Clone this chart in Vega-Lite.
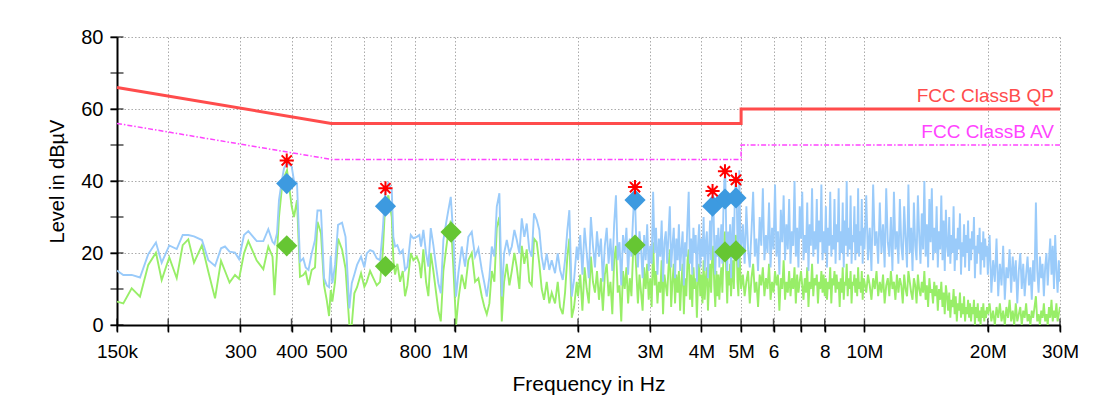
{
"$schema": "https://vega.github.io/schema/vega-lite/v6.json",
"width": 943,
"height": 288,
"autosize": {"type": "none"},
"padding": {"left": 117, "top": 37, "right": 38, "bottom": 81},
"background": "white",
"config": {"view": {"stroke": null}, "font": "Liberation Sans"},
"datasets": {
"trace": [
{"f":0.150,"p":15.1,"a":6.5},{"f":0.1554,"p":13.9,"a":6.0},{"f":0.1629,"p":13.9,"a":10.2},{"f":0.1707,"p":13.2,"a":7.9},{"f":0.1788,"p":19.7,"a":16.7},{"f":0.1867,"p":22.9,"a":20.1},{"f":0.1928,"p":17.3,"a":12.5},{"f":0.2012,"p":22.1,"a":18.8},{"f":0.2098,"p":21.1,"a":13.0},{"f":0.2170,"p":25.0,"a":22.2},{"f":0.2239,"p":25.0,"a":23.8},{"f":0.2312,"p":24.6,"a":17.3},{"f":0.2418,"p":23.6,"a":22.2},{"f":0.2506,"p":18.0,"a":14.8},{"f":0.2602,"p":16.4,"a":7.4},{"f":0.2691,"p":21.3,"a":17.8},{"f":0.2752,"p":21.8,"a":15.0},{"f":0.2823,"p":20.4,"a":11.8},{"f":0.2911,"p":20.1,"a":13.9},{"f":0.2978,"p":18.3,"a":12.8},{"f":0.3062,"p":25.0,"a":19.9},{"f":0.3137,"p":26.1,"a":23.3},{"f":0.3289,"p":23.3,"a":17.9},{"f":0.3413,"p":23.3,"a":15.5},{"f":0.3510,"p":26.6,"a":21.8},{"f":0.3594,"p":23.1,"a":19.0},{"f":0.3634,"p":22.5,"a":8.3},{"f":0.3686,"p":25.5,"a":19.9},{"f":0.3727,"p":34.7,"a":30.0},{"f":0.3784,"p":39.8,"a":37.5},{"f":0.3833,"p":43.5,"a":41.0},{"f":0.3899,"p":45.0,"a":43.0},{"f":0.4003,"p":44.0,"a":32.9},{"f":0.4055,"p":40.0,"a":30.0},{"f":0.4124,"p":39.4,"a":34.7},{"f":0.4194,"p":17.6,"a":13.4},{"f":0.4272,"p":18.5,"a":13.9},{"f":0.4330,"p":16.0,"a":14.8},{"f":0.4399,"p":15.3,"a":11.1},{"f":0.4479,"p":19.9,"a":15.3},{"f":0.4563,"p":23.6,"a":16.0},{"f":0.4627,"p":31.8,"a":28.7},{"f":0.4719,"p":31.8,"a":25.5},{"f":0.4801,"p":13.0,"a":11.0},{"f":0.4874,"p":11.0,"a":6.9},{"f":0.4938,"p":10.5,"a":2.5},{"f":0.4985,"p":19.2,"a":9.7},{"f":0.5030,"p":11.6,"a":6.5},{"f":0.5107,"p":16.7,"a":12.0},{"f":0.5194,"p":27.8,"a":24.0},{"f":0.5312,"p":28.4,"a":21.0},{"f":0.5417,"p":24.5,"a":15.7},{"f":0.5534,"p":4.6,"a":0},{"f":0.5610,"p":11.6,"a":0},{"f":0.5692,"p":14.0,"a":8.8},{"f":0.5779,"p":16.7,"a":10.5},{"f":0.5910,"p":19.0,"a":14.4},{"f":0.6021,"p":16.0,"a":10.6},
{"f":0.6103,"p":19.9,"a":12},{"f":0.6217,"p":20.8,"a":15},{"f":0.6333,"p":20.4,"a":13},{"f":0.6455,"p":18.5,"a":11},{"f":0.6576,"p":18.0,"a":12},{"f":0.6677,"p":26.4,"a":20},{"f":0.6764,"p":36.6,"a":33},{"f":0.6890,"p":39.4,"a":36},{"f":0.7023,"p":37.5,"a":30},{"f":0.7087,"p":24.5,"a":18},{"f":0.7155,"p":21.8,"a":14},{"f":0.7248,"p":22.2,"a":17},{"f":0.7359,"p":19.9,"a":12},{"f":0.7471,"p":20.8,"a":15},{"f":0.7568,"p":15.3,"a":8},{"f":0.7667,"p":16.2,"a":11},{"f":0.7815,"p":25.0,"a":20},{"f":0.7930,"p":24.1,"a":18},{"f":0.8083,"p":24.5,"a":19},{"f":0.8202,"p":25.0,"a":17},{"f":0.8280,"p":21.8,"a":13},{"f":0.8388,"p":26.4,"a":21},{"f":0.8516,"p":19.9,"a":12},{"f":0.8627,"p":16.2,"a":8},{"f":0.8744,"p":26.9,"a":20},{"f":0.8873,"p":22.2,"a":15},{"f":0.9009,"p":16.2,"a":9},{"f":0.9126,"p":11.6,"a":4},{"f":0.9250,"p":8.8,"a":1},{"f":0.9386,"p":23.6,"a":15},{"f":0.9529,"p":28.2,"a":21},{"f":0.9653,"p":31.9,"a":26},{"f":0.9784,"p":35.6,"a":29},{"f":0.9928,"p":24.5,"a":16},{"f":1.0080,"p":7.9,"a":0},{"f":1.0211,"p":14.4,"a":7},{"f":1.0408,"p":21.8,"a":14},{"f":1.0603,"p":16.2,"a":10},{"f":1.0801,"p":24.5,"a":18},{"f":1.1010,"p":25.9,"a":20},{"f":1.1216,"p":19.0,"a":12},{"f":1.1426,"p":21.3,"a":13},{"f":1.1647,"p":15.3,"a":8},{"f":1.1818,"p":11.6,"a":5},{"f":1.1979,"p":7.9,"a":3},{"f":1.2155,"p":13.4,"a":6},{"f":1.2320,"p":21.8,"a":15},{"f":1.2501,"p":19.0,"a":12},{"f":1.2671,"p":32.9,"a":27},{"f":1.2858,"p":36.6,"a":30},{"f":1.3032,"p":7.9,"a":1},{"f":1.3202,"p":19.9,"a":12},{"f":1.3404,"p":23.6,"a":17},{"f":1.3601,"p":19.9,"a":11},{"f":1.3786,"p":21.8,"a":15},{"f":1.3989,"p":26.4,"a":20},{"f":1.4178,"p":23.6,"a":16},{"f":1.4387,"p":19.9,"a":10},{"f":1.4582,"p":29.6,"a":22},{"f":1.4791,"p":24.5,"a":17},{"f":1.4992,"p":28.2,"a":21},{"f":1.5212,"p":20.8,"a":12},{"f":1.5419,"p":19.0,"a":11},{"f":1.5620,"p":31.0,"a":24},{"f":1.5858,"p":29.2,"a":23},{"f":1.6091,"p":26.4,"a":17},{"f":1.6310,"p":19.0,"a":10},{"f":1.6523,"p":15.3,"a":7},{"f":1.6775,"p":19.9,"a":12},{"f":1.7022,"p":15.3,"a":6},{"f":1.7253,"p":18.0,"a":9},{"f":1.7577,"p":14.4,"a":6},{"f":1.7846,"p":19.9,"a":12},{"f":1.8078,"p":15.3,"a":5},{"f":1.8356,"p":12.5,"a":3},{"f":1.8594,"p":18.0,"a":9},{"f":1.8837,"p":26.4,"a":19},{"f":1.9050,"p":31.9,"a":24},{"f":1.9308,"p":7.9,"a":2},{"f":1.9560,"p":12.5,"a":5},{"f":1.9859,"p":21.8,"a":12},
{"f":2.000,"p":18,"a":8},{"f":2.025,"p":25,"a":14},{"f":2.050,"p":14,"a":4},{"f":2.075,"p":27,"a":16},{"f":2.100,"p":20,"a":10},{"f":2.125,"p":13,"a":6},{"f":2.150,"p":30,"a":19},{"f":2.175,"p":22,"a":12},{"f":2.200,"p":16,"a":9},{"f":2.225,"p":26,"a":15},{"f":2.250,"p":19,"a":7},{"f":2.275,"p":24,"a":13},{"f":2.300,"p":12,"a":4},{"f":2.325,"p":22,"a":14},{"f":2.350,"p":27,"a":17},{"f":2.375,"p":17,"a":8},{"f":2.400,"p":24,"a":12},{"f":2.425,"p":15,"a":3},{"f":2.450,"p":28,"a":18},{"f":2.475,"p":36,"a":22},{"f":2.500,"p":18,"a":9},{"f":2.525,"p":23,"a":11},{"f":2.550,"p":11,"a":1},{"f":2.575,"p":25,"a":15},{"f":2.600,"p":20,"a":10},{"f":2.625,"p":27,"a":16},{"f":2.650,"p":14,"a":6},{"f":2.675,"p":24,"a":13},{"f":2.700,"p":19,"a":8},{"f":2.725,"p":30,"a":20},{"f":2.750,"p":38,"a":24},{"f":2.775,"p":23,"a":15},{"f":2.800,"p":16,"a":6},{"f":2.825,"p":26,"a":14},{"f":2.850,"p":21,"a":9},{"f":2.875,"p":13,"a":4},{"f":2.900,"p":25,"a":16},{"f":2.925,"p":18,"a":10},{"f":2.950,"p":28,"a":17},{"f":2.975,"p":15,"a":7},{"f":3.000,"p":22,"a":13},{"f":3.025,"p":17,"a":5},{"f":3.050,"p":37,"a":23},{"f":3.075,"p":20,"a":11},{"f":3.100,"p":27,"a":15},{"f":3.125,"p":14,"a":6},{"f":3.150,"p":24,"a":12},{"f":3.175,"p":19,"a":9},{"f":3.200,"p":29,"a":18},{"f":3.225,"p":12,"a":3},{"f":3.250,"p":23,"a":14},{"f":3.275,"p":26,"a":11},{"f":3.300,"p":17,"a":8},{"f":3.325,"p":25,"a":16},{"f":3.350,"p":33,"a":21},{"f":3.375,"p":16,"a":5},{"f":3.400,"p":22,"a":12},{"f":3.425,"p":27,"a":17},{"f":3.450,"p":13,"a":6},{"f":3.475,"p":24,"a":14},{"f":3.500,"p":18,"a":9},{"f":3.525,"p":28,"a":15},{"f":3.550,"p":15,"a":4},{"f":3.575,"p":21,"a":12},{"f":3.600,"p":26,"a":17},{"f":3.625,"p":11,"a":3},{"f":3.650,"p":23,"a":13},{"f":3.675,"p":19,"a":8},{"f":3.700,"p":29,"a":18},{"f":3.725,"p":37,"a":21},{"f":3.750,"p":17,"a":7},{"f":3.775,"p":24,"a":14},{"f":3.800,"p":14,"a":5},{"f":3.825,"p":27,"a":16},{"f":3.850,"p":20,"a":10},{"f":3.875,"p":25,"a":13},{"f":3.900,"p":12,"a":2},{"f":3.925,"p":22,"a":12},{"f":3.950,"p":28,"a":17},{"f":3.975,"p":16,"a":8},{"f":4.000,"p":24,"a":14},{"f":4.025,"p":19,"a":6},{"f":4.050,"p":30,"a":18},{"f":4.075,"p":15,"a":7},{"f":4.100,"p":23,"a":13},{"f":4.125,"p":26,"a":16},{"f":4.150,"p":13,"a":4},{"f":4.175,"p":21,"a":11},{"f":4.200,"p":29,"a":17},{"f":4.225,"p":18,"a":9},{"f":4.250,"p":33,"a":19},{"f":4.275,"p":37,"a":22},{"f":4.300,"p":22,"a":11},{"f":4.325,"p":14,"a":5},{"f":4.350,"p":25,"a":15},{"f":4.375,"p":19,"a":8},{"f":4.400,"p":27,"a":14},{"f":4.425,"p":16,"a":7},{"f":4.450,"p":23,"a":13},{"f":4.475,"p":28,"a":16},{"f":4.500,"p":17,"a":9},{"f":4.525,"p":31,"a":18},{"f":4.550,"p":40,"a":25},{"f":4.575,"p":42,"a":26},{"f":4.600,"p":25,"a":14},{"f":4.625,"p":15,"a":6},{"f":4.650,"p":26,"a":15},{"f":4.675,"p":20,"a":11},{"f":4.700,"p":28,"a":17},{"f":4.725,"p":13,"a":8},{"f":4.750,"p":24,"a":14},{"f":4.775,"p":30,"a":18},{"f":4.800,"p":19,"a":10},{"f":4.825,"p":35,"a":21},{"f":4.850,"p":40,"a":25},{"f":4.875,"p":38,"a":24},{"f":4.900,"p":22,"a":12},{"f":4.925,"p":16,"a":8},{"f":4.950,"p":43,"a":22},{"f":4.975,"p":27,"a":15},
{"f":5.00,"p":20,"a":10},{"f":5.05,"p":28,"a":14},{"f":5.10,"p":17,"a":8},{"f":5.15,"p":33,"a":12},{"f":5.20,"p":21,"a":15},{"f":5.25,"p":16,"a":6},{"f":5.30,"p":26,"a":13},{"f":5.35,"p":37,"a":17},{"f":5.40,"p":19,"a":9},{"f":5.45,"p":24,"a":12},{"f":5.50,"p":15,"a":5},{"f":5.55,"p":30,"a":14},{"f":5.60,"p":22,"a":11},{"f":5.65,"p":38,"a":16},{"f":5.70,"p":18,"a":8},{"f":5.75,"p":25,"a":13},{"f":5.80,"p":20,"a":10},{"f":5.85,"p":34,"a":17},{"f":5.90,"p":16,"a":7},{"f":5.95,"p":27,"a":12},{"f":6.00,"p":21,"a":9},{"f":6.05,"p":39,"a":15},{"f":6.10,"p":19,"a":11},{"f":6.15,"p":26,"a":14},{"f":6.20,"p":14,"a":4},{"f":6.25,"p":32,"a":13},{"f":6.30,"p":23,"a":10},{"f":6.35,"p":36,"a":18},{"f":6.40,"p":18,"a":7},{"f":6.45,"p":28,"a":12},{"f":6.50,"p":21,"a":9},{"f":6.55,"p":35,"a":15},{"f":6.60,"p":17,"a":8},{"f":6.65,"p":26,"a":13},{"f":6.70,"p":22,"a":10},{"f":6.75,"p":40,"a":16},{"f":6.80,"p":19,"a":6},{"f":6.85,"p":27,"a":14},{"f":6.90,"p":16,"a":9},{"f":6.95,"p":33,"a":12},{"f":7.00,"p":24,"a":15},{"f":7.05,"p":37,"a":11},{"f":7.10,"p":18,"a":7},{"f":7.15,"p":25,"a":13},{"f":7.20,"p":20,"a":9},{"f":7.25,"p":34,"a":16},{"f":7.30,"p":15,"a":5},{"f":7.35,"p":28,"a":12},{"f":7.40,"p":22,"a":10},{"f":7.45,"p":38,"a":17},{"f":7.50,"p":19,"a":8},{"f":7.55,"p":26,"a":13},{"f":7.60,"p":21,"a":11},{"f":7.65,"p":35,"a":14},{"f":7.70,"p":17,"a":6},{"f":7.75,"p":29,"a":12},{"f":7.80,"p":23,"a":10},{"f":7.85,"p":39,"a":15},{"f":7.90,"p":18,"a":9},{"f":7.95,"p":26,"a":14},{"f":8.00,"p":20,"a":8},{"f":8.05,"p":33,"a":13},{"f":8.10,"p":16,"a":7},{"f":8.15,"p":27,"a":12},{"f":8.20,"p":22,"a":10},{"f":8.25,"p":37,"a":16},{"f":8.30,"p":19,"a":6},{"f":8.35,"p":25,"a":13},{"f":8.40,"p":21,"a":11},{"f":8.45,"p":35,"a":15},{"f":8.50,"p":17,"a":9},{"f":8.55,"p":28,"a":14},{"f":8.60,"p":23,"a":10},{"f":8.65,"p":38,"a":12},{"f":8.70,"p":18,"a":5},{"f":8.75,"p":26,"a":13},{"f":8.80,"p":20,"a":9},{"f":8.85,"p":34,"a":16},{"f":8.90,"p":16,"a":7},{"f":8.95,"p":29,"a":12},{"f":9.00,"p":22,"a":11},{"f":9.05,"p":40,"a":17},{"f":9.10,"p":19,"a":8},{"f":9.15,"p":27,"a":13},{"f":9.20,"p":21,"a":10},{"f":9.25,"p":36,"a":15},{"f":9.30,"p":17,"a":6},{"f":9.35,"p":25,"a":12},{"f":9.40,"p":23,"a":11},{"f":9.45,"p":33,"a":14},{"f":9.50,"p":18,"a":9},{"f":9.55,"p":28,"a":13},{"f":9.60,"p":20,"a":8},{"f":9.65,"p":38,"a":16},{"f":9.70,"p":19,"a":10},{"f":9.75,"p":26,"a":12},{"f":9.80,"p":22,"a":9},{"f":9.85,"p":35,"a":15},{"f":9.90,"p":17,"a":7},{"f":9.95,"p":27,"a":13},
{"f":10.0,"p":21,"a":12},{"f":10.1,"p":36,"a":9},{"f":10.2,"p":18,"a":14},{"f":10.3,"p":27,"a":11},{"f":10.4,"p":15,"a":7},{"f":10.5,"p":39,"a":13},{"f":10.6,"p":22,"a":10},{"f":10.7,"p":26,"a":15},{"f":10.8,"p":17,"a":8},{"f":10.9,"p":34,"a":12},{"f":11.0,"p":20,"a":9},{"f":11.1,"p":28,"a":14},{"f":11.2,"p":16,"a":6},{"f":11.3,"p":38,"a":11},{"f":11.4,"p":23,"a":13},{"f":11.5,"p":19,"a":8},{"f":11.6,"p":30,"a":15},{"f":11.7,"p":15,"a":10},{"f":11.8,"p":37,"a":12},{"f":11.9,"p":21,"a":7},{"f":12.0,"p":26,"a":14},{"f":12.1,"p":17,"a":9},{"f":12.2,"p":35,"a":13},{"f":12.3,"p":22,"a":11},{"f":12.4,"p":18,"a":6},{"f":12.5,"p":33,"a":14},{"f":12.6,"p":24,"a":10},{"f":12.7,"p":16,"a":8},{"f":12.8,"p":39,"a":15},{"f":12.9,"p":20,"a":12},{"f":13.0,"p":27,"a":9},{"f":13.1,"p":15,"a":7},{"f":13.2,"p":34,"a":13},{"f":13.3,"p":22,"a":11},{"f":13.4,"p":18,"a":6},{"f":13.5,"p":36,"a":14},{"f":13.6,"p":25,"a":10},{"f":13.7,"p":17,"a":8},{"f":13.8,"p":31,"a":12},{"f":13.9,"p":21,"a":9},{"f":14.0,"p":40,"a":15},{"f":14.1,"p":19,"a":7},{"f":14.2,"p":28,"a":11},{"f":14.3,"p":16,"a":5},{"f":14.4,"p":35,"a":13},{"f":14.5,"p":23,"a":9},{"f":14.6,"p":38,"a":10},{"f":14.7,"p":18,"a":6},{"f":14.8,"p":27,"a":12},{"f":14.9,"p":20,"a":8},{"f":15.0,"p":33,"a":11},{"f":15.1,"p":16,"a":4},{"f":15.2,"p":26,"a":10},{"f":15.3,"p":21,"a":7},{"f":15.4,"p":36,"a":12},{"f":15.5,"p":18,"a":5},{"f":15.6,"p":29,"a":9},{"f":15.7,"p":15,"a":3},{"f":15.8,"p":32,"a":11},{"f":15.9,"p":22,"a":8},{"f":16.0,"p":19,"a":4},{"f":16.1,"p":30,"a":9},{"f":16.2,"p":17,"a":2},{"f":16.3,"p":25,"a":7},{"f":16.4,"p":20,"a":5},{"f":16.5,"p":33,"a":10},{"f":16.6,"p":15,"a":3},{"f":16.7,"p":24,"a":8},{"f":16.8,"p":18,"a":1},{"f":16.9,"p":27,"a":6},{"f":17.0,"p":21,"a":4},{"f":17.1,"p":31,"a":9},{"f":17.2,"p":14,"a":2},{"f":17.3,"p":23,"a":6},{"f":17.4,"p":19,"a":3},{"f":17.5,"p":28,"a":8},{"f":17.6,"p":16,"a":1},{"f":17.7,"p":25,"a":5},{"f":17.8,"p":20,"a":3},{"f":17.9,"p":29,"a":7},{"f":18.0,"p":15,"a":2},{"f":18.1,"p":24,"a":6},{"f":18.2,"p":18,"a":1},{"f":18.3,"p":26,"a":5},{"f":18.4,"p":21,"a":3},{"f":18.5,"p":30,"a":7},{"f":18.6,"p":13,"a":0},{"f":18.7,"p":22,"a":5},{"f":18.8,"p":17,"a":2},{"f":18.9,"p":25,"a":6},{"f":19.0,"p":20,"a":1},{"f":19.1,"p":27,"a":4},{"f":19.2,"p":14,"a":0},{"f":19.3,"p":23,"a":5},{"f":19.4,"p":18,"a":2},{"f":19.5,"p":26,"a":6},{"f":19.6,"p":16,"a":1},{"f":19.7,"p":24,"a":4},{"f":19.8,"p":19,"a":2},{"f":19.9,"p":22,"a":5},
{"f":20.0,"p":14,"a":3},{"f":20.2,"p":25,"a":6},{"f":20.4,"p":9,"a":1},{"f":20.6,"p":18,"a":4},{"f":20.8,"p":12,"a":0},{"f":21.0,"p":24,"a":5},{"f":21.2,"p":8,"a":2},{"f":21.4,"p":17,"a":6},{"f":21.6,"p":11,"a":1},{"f":21.8,"p":22,"a":4},{"f":22.0,"p":7,"a":0},{"f":22.2,"p":16,"a":5},{"f":22.4,"p":13,"a":2},{"f":22.6,"p":21,"a":7},{"f":22.8,"p":9,"a":1},{"f":23.0,"p":19,"a":4},{"f":23.2,"p":12,"a":0},{"f":23.4,"p":18,"a":6},{"f":23.6,"p":6,"a":1},{"f":23.8,"p":15,"a":3},{"f":24.0,"p":20,"a":5},{"f":24.2,"p":10,"a":0},{"f":24.4,"p":17,"a":4},{"f":24.6,"p":8,"a":2},{"f":24.8,"p":14,"a":6},{"f":25.0,"p":19,"a":1},{"f":25.2,"p":11,"a":3},{"f":25.4,"p":16,"a":0},{"f":25.6,"p":7,"a":4},{"f":25.8,"p":18,"a":2},{"f":26.0,"p":12,"a":5},{"f":26.2,"p":34,"a":8},{"f":26.4,"p":15,"a":1},{"f":26.6,"p":9,"a":3},{"f":26.8,"p":19,"a":0},{"f":27.0,"p":13,"a":4},{"f":27.2,"p":17,"a":2},{"f":27.4,"p":8,"a":6},{"f":27.6,"p":16,"a":1},{"f":27.8,"p":20,"a":3},{"f":28.0,"p":11,"a":0},{"f":28.2,"p":18,"a":5},{"f":28.4,"p":24,"a":2},{"f":28.6,"p":14,"a":7},{"f":28.8,"p":22,"a":1},{"f":29.0,"p":10,"a":4},{"f":29.2,"p":25,"a":2},{"f":29.4,"p":15,"a":6},{"f":29.6,"p":9,"a":1},{"f":29.8,"p":18,"a":3},{"f":30.0,"p":12,"a":5}
],
"lim": [
{"f":0.15,"qp":66,"av":56,"o":1},{"f":0.5,"qp":56,"av":46,"o":2},{"f":5,"qp":56,"av":46,"o":3},{"f":5,"qp":60,"av":50,"o":4},{"f":30,"qp":60,"av":50,"o":5}
],
"qpr": [
{"f":0.3893,"v":39.3},{"f":0.678,"v":33.0},{"f":2.755,"v":34.7},{"f":4.259,"v":33.0},{"f":4.567,"v":35.0},{"f":4.858,"v":35.3}
],
"avr": [
{"f":0.3893,"v":22.0},{"f":0.678,"v":16.3},{"f":0.980,"v":25.8},{"f":2.755,"v":22.2},{"f":4.567,"v":20.3},{"f":4.858,"v":20.6}
],
"pkr": [
{"f":0.3893,"v":45.7},{"f":0.678,"v":38.0},{"f":2.755,"v":38.3},{"f":4.259,"v":37.2},{"f":4.567,"v":42.7},{"f":4.858,"v":40.3}
],
"lbl": [
{"f":30,"v":60,"t":"FCC ClassB QP","c":"qp"},{"f":30,"v":50,"t":"FCC ClassB AV","c":"av"}
],
"xt": [
{"f":0.15},{"f":0.2},{"f":0.3},{"f":0.4},{"f":0.5},{"f":0.6},{"f":0.7},{"f":0.8},{"f":1},{"f":2},{"f":3},{"f":4},{"f":5},{"f":6},{"f":7},{"f":8},{"f":10},{"f":20},{"f":30}
],
"yt": [
{"v":0},{"v":10},{"v":20},{"v":30},{"v":40},{"v":50},{"v":60},{"v":70},{"v":80}
]
},
"layer": [
{
"data": {"name": "trace"},
"mark": {"type": "line", "color": "#98EE68", "strokeWidth": 1.9, "clip": true},
"encoding": {
"x": {"field": "f", "type": "quantitative",
"scale": {"type": "log", "domain": [0.15, 30], "nice": false},
"axis": {"title": "Frequency in Hz",
"values": [0.15,0.2,0.3,0.4,0.5,0.6,0.7,0.8,1,2,3,4,5,6,7,8,10,20,30],
"labelExpr": "indexof([0.2,0.6,0.7,7], datum.value) >= 0 ? '' : datum.value == 0.15 ? '150k' : datum.value < 1 ? format(datum.value*1000, 'd') : (datum.value == 6 || datum.value == 8) ? format(datum.value, 'd') : format(datum.value, 'd') + 'M'",
"grid": true, "gridDash": [1.5, 2], "gridColor": "#ABABAB", "gridWidth": 1,
"domainColor": "black", "domainWidth": 2,
"tickColor": "black", "tickWidth": 1.5, "tickSize": 7,
"labelFontSize": 19, "labelColor": "black", "labelPadding": 10,
"labelOverlap": false, "labelFlush": false,
"titleFontSize": 21, "titleFontWeight": "normal", "titleColor": "black", "titlePadding": 12}},
"y": {"field": "a", "type": "quantitative",
"scale": {"domain": [0, 80], "nice": false, "zero": false},
"axis": {"title": "Level in dBµV",
"values": [0,10,20,30,40,50,60,70,80],
"labelExpr": "datum.value % 20 == 0 ? datum.label : ''",
"grid": true, "gridDash": [1.5, 2], "gridColor": "#ABABAB", "gridWidth": 1,
"domainColor": "black", "domainWidth": 2,
"tickColor": "black", "tickWidth": 1.5, "tickSize": 7,
"labelFontSize": 20, "labelColor": "black", "labelPadding": 7,
"titleFontSize": 20, "titleFontWeight": "normal", "titleColor": "black", "titlePadding": 13}}
}
},
{
"data": {"name": "trace"},
"mark": {"type": "line", "color": "#9ACBFA", "strokeWidth": 1.9, "clip": true},
"encoding": {
"x": {"field": "f", "type": "quantitative"},
"y": {"field": "p", "type": "quantitative"}
}
},
{
"data": {"name": "lim"},
"mark": {"type": "line", "color": "#FF44FF", "strokeWidth": 1.5, "strokeDash": [5, 2, 1.5, 2]},
"encoding": {
"x": {"field": "f", "type": "quantitative"},
"y": {"field": "av", "type": "quantitative"},
"order": {"field": "o"}
}
},
{
"data": {"name": "lim"},
"mark": {"type": "line", "color": "#FF4C4C", "strokeWidth": 3},
"encoding": {
"x": {"field": "f", "type": "quantitative"},
"y": {"field": "qp", "type": "quantitative"},
"order": {"field": "o"}
}
},
{
"data": {"name": "lbl"},
"mark": {"type": "text", "align": "right", "baseline": "alphabetic", "dx": -6, "dy": -7, "fontSize": 19},
"encoding": {
"x": {"field": "f", "type": "quantitative"},
"y": {"field": "v", "type": "quantitative"},
"text": {"field": "t"},
"color": {"field": "c", "type": "nominal", "scale": {"domain": ["qp", "av"], "range": ["#FF4C4C", "#FF44FF"]}, "legend": null}
}
},
{
"data": {"name": "xt"},
"mark": {"type": "tick", "orient": "vertical", "color": "black", "size": 13, "thickness": 1.5},
"encoding": {
"x": {"field": "f", "type": "quantitative"},
"y": {"datum": 0}
}
},
{
"data": {"name": "yt"},
"mark": {"type": "tick", "orient": "horizontal", "color": "black", "size": 13, "thickness": 1.5},
"encoding": {
"x": {"datum": 0.15},
"y": {"field": "v", "type": "quantitative"}
}
},
{
"data": {"name": "avr"},
"mark": {"type": "point", "shape": "diamond", "filled": true, "color": "#66C633", "size": 450, "opacity": 1},
"encoding": {
"x": {"field": "f", "type": "quantitative"},
"y": {"field": "v", "type": "quantitative"}
}
},
{
"data": {"name": "qpr"},
"mark": {"type": "point", "shape": "diamond", "filled": true, "color": "#3D9AE0", "size": 450, "opacity": 1},
"encoding": {
"x": {"field": "f", "type": "quantitative"},
"y": {"field": "v", "type": "quantitative"}
}
},
{
"data": {"name": "pkr"},
"mark": {"type": "point", "shape": "M0,-1L0,1M-1,0L1,0M-0.72,-0.72L0.72,0.72M-0.72,0.72L0.72,-0.72", "filled": false, "color": "#FF0000", "strokeWidth": 2, "size": 200, "opacity": 1},
"encoding": {
"x": {"field": "f", "type": "quantitative"},
"y": {"field": "v", "type": "quantitative"}
}
}
]
}
